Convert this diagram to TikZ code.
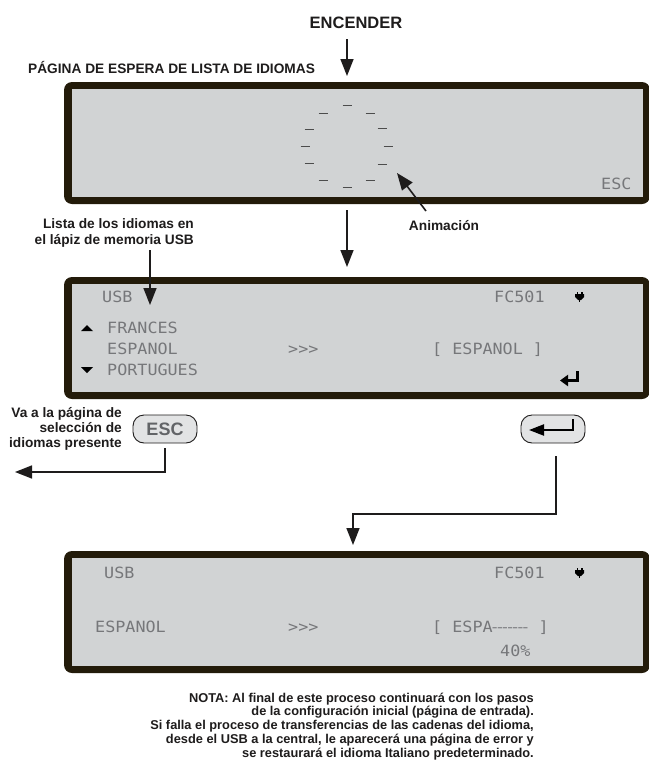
\documentclass[tikz,border=0pt]{standalone}
\usepackage{fontspec}
\usepackage{graphicx}
\setmainfont{Liberation Sans}
\newfontfamily\lcdfont[FakeStretch=1.08]{DejaVu Sans Mono}
\usetikzlibrary{arrows.meta}
\newcommand\lcddash{\scalebox{0.42}[1]{–}\kern0.9pt}
\definecolor{bord}{RGB}{35,27,10}
\definecolor{lcdbg}{RGB}{209,211,212}
\definecolor{lcdink}{RGB}{118,119,122}
\definecolor{btnfill}{RGB}{226,227,228}
\definecolor{escgray}{RGB}{98,100,103}
\definecolor{ink}{RGB}{30,28,28}
\tikzset{
  outerpanel/.style={fill=bord, rounded corners=8pt, inner sep=0pt, outer sep=0pt, minimum width=586pt, minimum height=122pt, anchor=north west},
  innerpanel/.style={fill=lcdbg, inner sep=0pt, outer sep=0pt, minimum width=571pt, minimum height=108pt, anchor=north west},
  lcdtxt/.style={font=\lcdfont\fontsize{15.5}{15.5}\selectfont, text=lcdink, inner sep=0pt, anchor=base west},
  lbl/.style={font=\bfseries\fontsize{13.7}{15}\selectfont, text=ink, inner sep=0pt},
  notelbl/.style={font=\bfseries\fontsize{12.8}{13.8}\selectfont, text=ink, inner sep=0pt, align=right, anchor=north east},
  arr/.style={draw=ink, line width=1.6pt, -{Triangle[length=17pt,width=13pt]}},
  animdash/.style={draw=black!70, line width=1pt},
  btn/.style={draw=ink, line width=0.9pt, fill=btnfill, rounded corners=11pt, minimum width=64pt, minimum height=28pt, inner sep=0pt},
  plug/.pic={
    \fill[black] (-3,-5) rectangle (-1.4,-2.5);
    \fill[black] (1.4,-5) rectangle (3,-2.5);
    \fill[black] (-4.5,-3) -- (4.5,-3) -- (4.5,0) -- (1.5,3) -- (-1.5,3) -- (-4.5,0) -- cycle;
    \fill[black] (-0.8,2.5) rectangle (0.8,5);
  }
}
\begin{document}
\begin{tikzpicture}[x=1pt,y=-1pt]
\useasboundingbox (0,0) rectangle (648,763);
\fill[white] (0,0) rectangle (648,763);

% ---------- top labels ----------
\node[font=\bfseries\fontsize{16.5}{18}\selectfont, text=ink, inner sep=0pt, anchor=base] (enc) at (356,28) {ENCENDER};
\node[lbl, anchor=base west] (pagina) at (28,73) {PÁGINA DE ESPERA DE LISTA DE IDIOMAS};

% ---------- panel 1 ----------
\node[outerpanel] (p1) at (64,82) {};
\node[innerpanel] (p1i) at (72,89) {};
\foreach \x/\y [count=\i] in {347/105, 323/113, 370/113, 309/129, 382/128, 305/146, 388/146, 309/163, 382/164, 323/180, 370/180, 347/187}
  \draw[animdash] (\x-4.5,\y) -- (\x+4.5,\y);
\node[lcdtxt] (esc1) at (601,189) {ESC};

% ---------- panel 2 ----------
\node[outerpanel] (p2) at (64,277) {};
\node[innerpanel] (p2i) at (72,284) {};
\node[lcdtxt] (usb2) at (102,302.5) {USB};
\node[lcdtxt] (fc2) at (494,302.5) {FC501};
\pic at (579.5,297) {plug};
\fill[black] (81,331) -- (93,331) -- (87,325) -- cycle;
\node[lcdtxt] (fr) at (107,333.5) {FRANCES};
\node[lcdtxt] (es2) at (107,354.5) {ESPANOL};
\node[lcdtxt] (gt2) at (288,354.5) {>{}>{}>};
\node[lcdtxt] (sel2) at (432,354.5) {[ ESPANOL ]};
\fill[black] (81,367) -- (93,367) -- (87,373) -- cycle;
\node[lcdtxt] (pt) at (107,375.5) {PORTUGUES};
\draw[black, line width=2.5pt, -{Triangle[length=8pt,width=11pt]}] (577.5,371) |- (560,380.5);

% ---------- panel 3 ----------
\node[outerpanel] (p3) at (64,551) {};
\node[innerpanel] (p3i) at (72,558) {};
\node[lcdtxt] (usb3) at (104,578.5) {USB};
\node[lcdtxt] (fc3) at (494,578.5) {FC501};
\pic at (579.5,573) {plug};
\node[lcdtxt] (es3) at (95,632.5) {ESPANOL};
\node[lcdtxt] (gt3) at (288,632.5) {>{}>{}>};
\node[lcdtxt] (sel3) at (432,632.5) {[ ESPA\lcddash\lcddash\lcddash\lcddash\lcddash\lcddash\lcddash{} ]};
\node[lcdtxt] (pct) at (500,656) {40\%};

% ---------- side labels ----------
\node[lbl, align=right, anchor=north east, font=\bfseries\fontsize{13.7}{16}\selectfont] (lista) at (194,218) {Lista de los idiomas en\\el lápiz de memoria USB};
\node[lbl, anchor=base] (anim) at (444,230) {Animación};
\node[lbl, align=right, anchor=north east] (va) at (122,407.5) {Va a la página de\\selección de\\idiomas presente};

% ---------- buttons ----------
\node[btn, font=\bfseries\fontsize{18}{18}\selectfont, text=escgray] (escbtn) at (165,429) {ESC};
\node[btn] (entbtn) at (553,429) {};
\draw[black, line width=2.2pt, -{Triangle[length=15pt,width=11pt]}] ([xshift=20pt,yshift=10pt]entbtn.center) |- ([xshift=-24pt,yshift=-1pt]entbtn.center);

% ---------- note ----------
\node[notelbl] (nota) at (534,692.5) {NOTA: Al final de este proceso continuará con los pasos\\de la configuración inicial (página de entrada).\\Si falla el proceso de transferencias de las cadenas del idioma,\\desde el USB a la central, le aparecerá una página de error y\\se restaurará el idioma Italiano predeterminado.};

% ---------- connectors ----------
\coordinate (p1top) at (347,76);
\coordinate (p2top) at (347,267);
\coordinate (usbpt) at (150,305);
\coordinate (animtip) at (397,173);
\coordinate (escout) at (15,472);
\coordinate (entturn) at (353,514);
\coordinate (p3top) at (353,545);

\draw[arr] ([xshift=-9pt,yshift=-11pt]enc.base) -- (p1top);
\draw[arr] (p1.south -| p1top) ++(0,6) -- (p2top);
\draw[arr] ([yshift=-3pt]lista.south -| usbpt) -- (usbpt);
\draw[arr] ([shift={(-18pt,19pt)}]anim.base) -- (animtip);
\draw[arr] ([yshift=-5pt]escbtn.south) |- (escout);
\draw[arr] ([xshift=3pt,yshift=-13pt]entbtn.south) |- (entturn) -- (p3top);
\end{tikzpicture}
\end{document}
